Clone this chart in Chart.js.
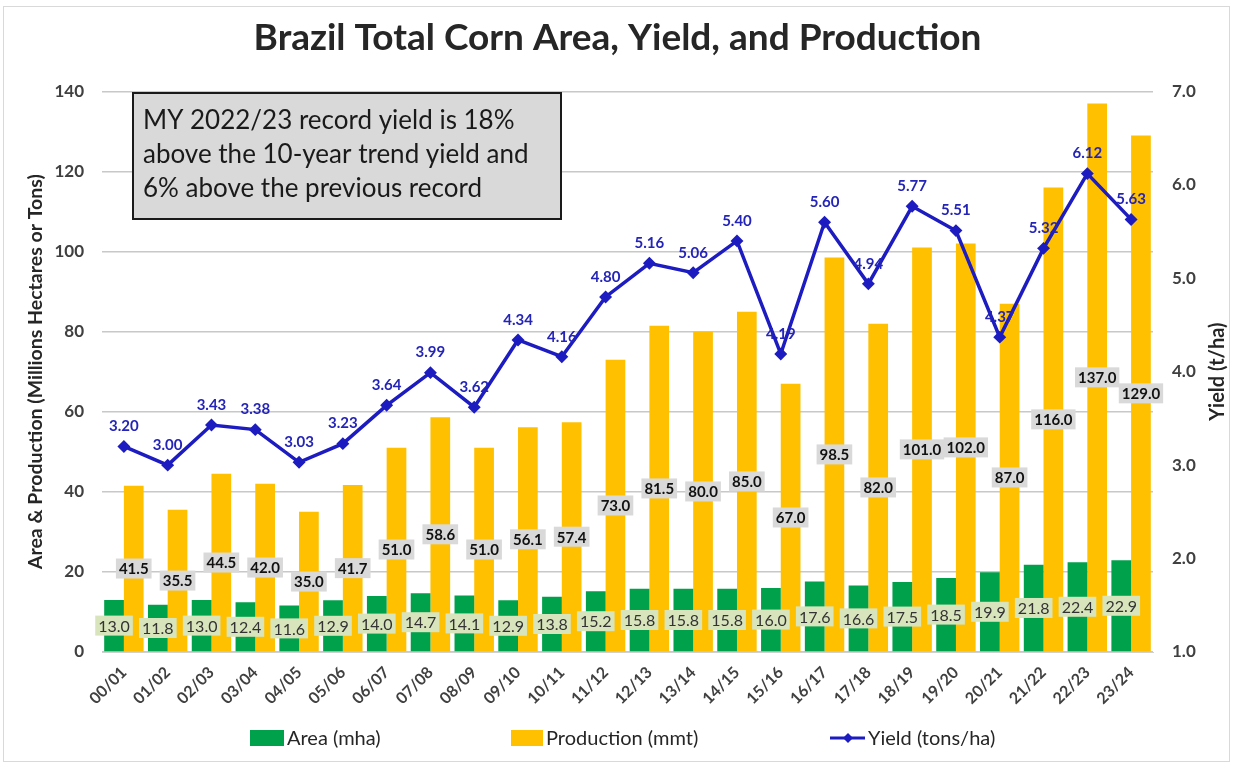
<!DOCTYPE html>
<html>
<head>
<meta charset="utf-8">
<title>Brazil Total Corn Area, Yield, and Production</title>
<script src="https://cdn.jsdelivr.net/npm/chart.js@4.4.0/dist/chart.umd.min.js"></script>
<style>
  html, body { margin: 0; padding: 0; background: #fff; }
  #wrap { position: relative; width: 1233px; height: 764px; }
</style>
</head>
<body>
<div id="wrap"><canvas id="cornChart"></canvas></div>
<script>
// marketing years
const seasons = ["00/01","01/02","02/03","03/04","04/05","05/06","06/07","07/08","08/09","09/10","10/11","11/12",
  "12/13","13/14","14/15","15/16","16/17","17/18","18/19","19/20","20/21","21/22","22/23","23/24"];

// area, million hectares
const areaMha = [13.0, 11.8, 13.0, 12.4, 11.6, 12.9, 14.0, 14.7, 14.1, 12.9, 13.8, 15.2,
  15.8, 15.8, 15.8, 16.0, 17.6, 16.6, 17.5, 18.5, 19.9, 21.8, 22.4, 22.9];

// production, million metric tons
const productionMmt = [41.5, 35.5, 44.5, 42.0, 35.0, 41.7, 51.0, 58.6, 51.0, 56.1, 57.4, 73.0,
  81.5, 80.0, 85.0, 67.0, 98.5, 82.0, 101.0, 102.0, 87.0, 116.0, 137.0, 129.0];

// yield, tons per hectare
const yieldTha = [3.20, 3.00, 3.43, 3.38, 3.03, 3.23, 3.64, 3.99, 3.62, 4.34, 4.16, 4.80,
  5.16, 5.06, 5.40, 4.19, 5.60, 4.94, 5.77, 5.51, 4.37, 5.32, 6.12, 5.63];

const noteLines = [
  "MY 2022/23 record yield is 18%",
  "above the 10-year trend yield and",
  "6% above the previous record"
];

const FONT = "Lato, 'Open Sans', sans-serif";
const GREEN = "#00a14b";
const GOLD = "#ffc000";
const BLUE = "#1c1cc0";

function labelBox(ctx, text, x, y, bg, color, font) {
  ctx.font = font;
  const w = ctx.measureText(text).width + 6;
  const h = 20;
  ctx.fillStyle = bg;
  ctx.fillRect(x - w / 2, y - h / 2, w, h);
  ctx.fillStyle = color;
  ctx.textAlign = "center";
  ctx.textBaseline = "middle";
  ctx.fillText(text, x, y + 1);
}

// frame, note box, value labels and legend
const extras = {
  id: "extras",
  beforeDraw(chart) {
    const ctx = chart.ctx;
    ctx.save();
    ctx.strokeStyle = "#d9d9d9";
    ctx.lineWidth = 1;
    ctx.strokeRect(3.5, 6.5, chart.width - 7, chart.height - 9);
    ctx.restore();
  },
  afterDatasetsDraw(chart) {
    const ctx = chart.ctx;
    ctx.save();

    chart.getDatasetMeta(0).data.forEach((bar, i) => {
      labelBox(ctx, areaMha[i].toFixed(1), bar.x, (bar.y + bar.base) / 2,
        "#d8e4bc", "#333", "16px " + FONT);
    });

    chart.getDatasetMeta(1).data.forEach((bar, i) => {
      labelBox(ctx, productionMmt[i].toFixed(1), bar.x, (bar.y + bar.base) / 2,
        "#d9d9d9", "#111", "bold 15px " + FONT);
    });

    ctx.font = "bold 15px " + FONT;
    ctx.fillStyle = "#2424b8";
    ctx.textAlign = "center";
    ctx.textBaseline = "middle";
    chart.getDatasetMeta(2).data.forEach((pt, i) => {
      ctx.fillText(yieldTha[i].toFixed(2), pt.x, pt.y - 20);
    });

    // note box
    ctx.fillStyle = "#d9d9d9";
    ctx.fillRect(133, 93, 428, 126);
    ctx.strokeStyle = "#1a1a1a";
    ctx.lineWidth = 2;
    ctx.strokeRect(133, 93, 428, 126);
    ctx.fillStyle = "#1a1a1a";
    ctx.font = "26px " + FONT;
    ctx.textAlign = "left";
    noteLines.forEach((line, i) => {
      ctx.fillText(line, 143, 121 + i * 34);
    });

    // right axis title, reading bottom to top
    const ya = chart.scales.y1;
    ctx.save();
    ctx.translate(1218, (ya.top + ya.bottom) / 2);
    ctx.rotate(-Math.PI / 2);
    ctx.font = "bold 20px " + FONT;
    ctx.fillStyle = "#262626";
    ctx.textAlign = "center";
    ctx.fillText("Yield (t/ha)", 0, 0);
    ctx.restore();

    // legend
    const ly = 738;
    ctx.font = "20px " + FONT;
    ctx.textBaseline = "middle";
    ctx.fillStyle = GREEN;
    ctx.fillRect(250, ly - 8, 34, 16);
    ctx.fillStyle = GOLD;
    ctx.fillRect(511, ly - 8, 32, 16);
    ctx.strokeStyle = BLUE;
    ctx.lineWidth = 3;
    ctx.beginPath();
    ctx.moveTo(830, ly);
    ctx.lineTo(865, ly);
    ctx.stroke();
    ctx.fillStyle = BLUE;
    ctx.beginPath();
    ctx.moveTo(848, ly - 5);
    ctx.lineTo(853, ly);
    ctx.lineTo(848, ly + 5);
    ctx.lineTo(843, ly);
    ctx.closePath();
    ctx.fill();
    ctx.fillStyle = "#262626";
    ctx.textAlign = "left";
    ctx.fillText(chart.data.datasets[0].label, 287, ly + 1);
    ctx.fillText(chart.data.datasets[1].label, 546, ly + 1);
    ctx.fillText(chart.data.datasets[2].label, 868, ly + 1);

    ctx.restore();
  }
};

const ctx = document.getElementById("cornChart").getContext("2d");

new Chart(ctx, {
  data: {
    labels: seasons,
    datasets: [
      {
        type: "bar",
        label: "Area (mha)",
        data: areaMha,
        backgroundColor: GREEN,
        yAxisID: "y",
        order: 2,
        categoryPercentage: 0.9,
        barPercentage: 1.0
      },
      {
        type: "bar",
        label: "Production (mmt)",
        data: productionMmt,
        backgroundColor: GOLD,
        yAxisID: "y",
        order: 2,
        categoryPercentage: 0.9,
        barPercentage: 1.0
      },
      {
        type: "line",
        label: "Yield (tons/ha)",
        data: yieldTha,
        borderColor: BLUE,
        backgroundColor: BLUE,
        borderWidth: 3.5,
        pointStyle: "rectRot",
        pointRadius: 4,
        tension: 0,
        yAxisID: "y1",
        order: 1
      }
    ]
  },
  options: {
    responsive: true,
    maintainAspectRatio: false,
    animation: false,
    layout: { padding: { left: 10, right: 8, top: 8, bottom: 50 } },
    plugins: {
      title: {
        display: true,
        text: "Brazil Total Corn Area, Yield, and Production",
        color: "#262626",
        font: { family: FONT, size: 37, weight: "bold" },
        padding: { top: 8, bottom: 31 }
      },
      legend: { display: false },
      tooltip: { enabled: false }
    },
    scales: {
      x: {
        grid: { display: false },
        border: { color: "#d0d0d0" },
        ticks: {
          color: "#404040",
          font: { family: FONT, size: 16, weight: "bold" },
          minRotation: 45,
          maxRotation: 45
        },
        afterFit(scale) { scale.height = 62; }
      },
      y: {
        position: "left",
        min: 0,
        max: 140,
        ticks: {
          stepSize: 20,
          color: "#404040",
          font: { family: FONT, size: 17, weight: "bold" },
          padding: 18
        },
        grid: { color: "#c8c8c8", lineWidth: 1.5, drawTicks: false },
        border: { display: false },
        title: {
          display: true,
          text: "Area & Production (Millions Hectares or Tons)",
          color: "#262626",
          font: { family: FONT, size: 19.5, weight: "bold" },
          padding: { top: 14, bottom: 4 }
        },
        afterFit(scale) { scale.width = 92; }
      },
      y1: {
        position: "right",
        min: 1,
        max: 7,
        ticks: {
          stepSize: 1,
          color: "#404040",
          font: { family: FONT, size: 17, weight: "bold" },
          padding: 19,
          callback: (v) => v.toFixed(1)
        },
        grid: { display: false, drawTicks: false },
        border: { display: false },
        afterFit(scale) { scale.width = 72; }
      }
    }
  },
  plugins: [extras]
});
</script>
</body>
</html>
